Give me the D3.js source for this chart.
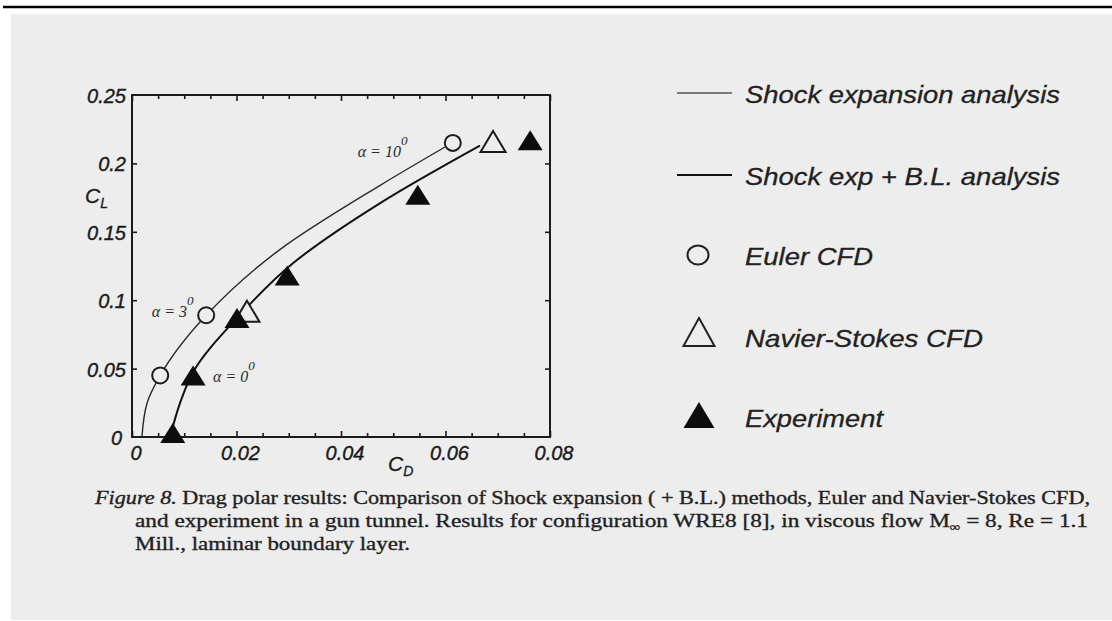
<!DOCTYPE html>
<html>
<head>
<meta charset="utf-8">
<script src="https://cdn.jsdelivr.net/npm/d3@7"></script>
<style>
  body { margin: 0; background: #fff; }
  svg { display: block; }
</style>
</head>
<body>
<div id="chart"></div>
<script>
// drag polar values (C_D, C_L)
const eulerCFD = [[0.0054, 0.045], [0.0142, 0.089], [0.0614, 0.215]]
const navierStokesCFD = [[0.0220, 0.092], [0.0691, 0.216]]
const experiment = [[0.0078, 0.003], [0.0117, 0.045], [0.0201, 0.087], [0.0297, 0.118], [0.0547, 0.177], [0.0762, 0.217]]
const shockExpansion = [[0.0019, 0], [0.0029, 0.025], [0.0054, 0.045], [0.0142, 0.089], [0.0283, 0.137], [0.0475, 0.184], [0.0599, 0.212]]
const shockExpBL = [[0.0075, 0.003], [0.0093, 0.026], [0.0117, 0.0475], [0.0201, 0.087], [0.0308, 0.127], [0.0475, 0.171], [0.0666, 0.213]]

const xTicks = [0, 0.02, 0.04, 0.06, 0.08]
const xTickLabels = ["0", "0.02", "0.04", "0.06", "0.08"]
const yTicks = [0, 0.05, 0.1, 0.15, 0.2, 0.25]
const yTickLabels = ["0", "0.05", "0.1", "0.15", "0.2", "0.25"]

const legendLabels = ["Shock expansion analysis", "Shock exp + B.L. analysis", "Euler CFD", "Navier-Stokes CFD", "Experiment"]
const alphaNotes = [
  { text: "α = 10", at: [0.0432, 0.205] },
  { text: "α = 3", at: [0.0038, 0.088] },
  { text: "α = 0", at: [0.0155, 0.04] }
]
const captionLines = [
  "Drag polar results: Comparison of Shock expansion ( + B.L.) methods, Euler and Navier-Stokes CFD,",
  "and experiment in a gun tunnel. Results for configuration WRE8 [8], in viscous flow M",
  "Mill., laminar boundary layer."
]

const W = 1112, H = 621
const paper = "#ededed", ink = "#1b1b1b"
const sans = "'Liberation Sans', Arial, sans-serif"
const serif = "'Liberation Serif', 'Times New Roman', serif"

const svg = d3.select("#chart").append("svg")
  .attr("width", W).attr("height", H)

svg.append("rect").attr("width", W).attr("height", H).attr("fill", "#fff")
svg.append("line")
  .attr("x1", 3).attr("x2", W).attr("y1", 7).attr("y2", 7)
  .attr("stroke", "#000").attr("stroke-width", 2.5)
svg.append("rect")
  .attr("x", 11).attr("y", 14).attr("width", W - 11).attr("height", H - 15)
  .attr("fill", paper)

const x = d3.scaleLinear().domain([0, 0.08]).range([132, 550])
const y = d3.scaleLinear().domain([0, 0.25]).range([437, 95])

// ticks point inward on all four sides
const minorX = d3.range(0, 0.0801, 0.005)
const isMajor = d => Math.abs(d / 0.02 - Math.round(d / 0.02)) < 1e-6

function styleTicks(g) {
  g.select(".domain").remove()
  g.selectAll(".tick line").attr("stroke", ink).attr("stroke-width", 1.6)
}

svg.append("g")
  .attr("transform", `translate(0,${y(0)})`)
  .call(d3.axisBottom(x).tickValues(minorX).tickFormat("").tickSize(-4))
  .call(styleTicks)
  .selectAll(".tick line").attr("y2", d => isMajor(d) ? -6 : -4)

svg.append("g")
  .attr("transform", `translate(0,${y(0.25)})`)
  .call(d3.axisTop(x).tickValues(minorX).tickFormat("").tickSize(-4))
  .call(styleTicks)
  .selectAll(".tick line").attr("y2", d => isMajor(d) ? 6 : 4)

svg.append("g")
  .attr("transform", `translate(${x(0)},0)`)
  .call(d3.axisLeft(y).tickValues(yTicks.slice(1, -1)).tickFormat("").tickSize(-5))
  .call(styleTicks)

svg.append("g")
  .attr("transform", `translate(${x(0.08)},0)`)
  .call(d3.axisRight(y).tickValues(yTicks.slice(1, -1)).tickFormat("").tickSize(-5))
  .call(styleTicks)

svg.append("rect")
  .attr("x", x(0)).attr("y", y(0.25))
  .attr("width", x(0.08) - x(0)).attr("height", y(0) - y(0.25))
  .attr("fill", "none").attr("stroke", ink).attr("stroke-width", 2)

// tick labels (a faint stroke thickens them like the scan)
svg.append("g").selectAll("text")
  .data(xTicks)
  .join("text")
  .attr("x", d => x(d) + 4)
  .attr("y", y(0) + 23)
  .attr("text-anchor", "middle")
  .attr("font-family", sans).attr("font-style", "italic").attr("font-size", 20)
  .attr("fill", ink).attr("stroke", ink).attr("stroke-width", 0.4)
  .text((d, i) => xTickLabels[i])

svg.append("g").selectAll("text")
  .data(yTicks)
  .join("text")
  .attr("x", d => d === 0 ? x(0) - 10 : x(0) - 6)
  .attr("y", d => y(d) + 8)
  .attr("text-anchor", "end")
  .attr("font-family", sans).attr("font-style", "italic").attr("font-size", 20)
  .attr("fill", ink).attr("stroke", ink).attr("stroke-width", 0.4)
  .text((d, i) => yTickLabels[i])

// axis titles
const cl = svg.append("text")
  .attr("x", 85).attr("y", 203)
  .attr("font-family", sans).attr("font-style", "italic").attr("font-size", 21)
  .attr("fill", ink).attr("stroke", ink).attr("stroke-width", 0.3)
cl.append("tspan").text("C")
cl.append("tspan").attr("font-size", 14).attr("dy", 5).text("L")

const cd = svg.append("text")
  .attr("x", 388).attr("y", 471)
  .attr("font-family", sans).attr("font-style", "italic").attr("font-size", 21)
  .attr("fill", ink).attr("stroke", ink).attr("stroke-width", 0.3)
cd.append("tspan").text("C")
cd.append("tspan").attr("font-size", 14).attr("dy", 5).text("D")

// curves
const line = d3.line()
  .x(d => x(d[0]))
  .y(d => y(d[1]))
  .curve(d3.curveMonotoneY)

svg.append("path").datum(shockExpansion)
  .attr("d", line)
  .attr("fill", "none").attr("stroke", "#2a2a2a").attr("stroke-width", 1.4)

svg.append("path").datum(shockExpBL)
  .attr("d", line)
  .attr("fill", "none").attr("stroke", "#111").attr("stroke-width", 2)

function tri(w, h) {
  return `M0,${-h / 2}L${w / 2},${h / 2}L${-w / 2},${h / 2}Z`
}

svg.append("g").selectAll("circle")
  .data(eulerCFD)
  .join("circle")
  .attr("cx", d => x(d[0])).attr("cy", d => y(d[1]))
  .attr("r", 8)
  .attr("fill", paper).attr("stroke", ink).attr("stroke-width", 2)

svg.append("g").selectAll("path")
  .data(navierStokesCFD)
  .join("path")
  .attr("transform", d => `translate(${x(d[0])},${y(d[1])})`)
  .attr("d", tri(25, 21))
  .attr("fill", paper).attr("stroke", ink).attr("stroke-width", 2)

svg.append("g").selectAll("path")
  .data(experiment)
  .join("path")
  .attr("transform", d => `translate(${x(d[0])},${y(d[1])})`)
  .attr("d", tri(25, 20))
  .attr("fill", "#0d0d0d")

// angle of attack notes
const notes = svg.append("g").selectAll("text")
  .data(alphaNotes)
  .join("text")
  .attr("x", d => x(d.at[0])).attr("y", d => y(d.at[1]))
  .attr("font-family", serif).attr("font-style", "italic").attr("font-size", 16)
  .attr("fill", "#2a2a2a")
notes.append("tspan").text(d => d.text)
notes.append("tspan").attr("font-size", 13).attr("dy", -12).text("0")

// legend
const legend = svg.append("g")
const legendY = [103, 185, 265, 347, 427]

legend.append("line")
  .attr("x1", 677).attr("x2", 732).attr("y1", 93).attr("y2", 93)
  .attr("stroke", "#555").attr("stroke-width", 1.3)
legend.append("line")
  .attr("x1", 677).attr("x2", 732).attr("y1", 175).attr("y2", 175)
  .attr("stroke", "#111").attr("stroke-width", 2)
legend.append("ellipse")
  .attr("cx", 698).attr("cy", 255).attr("rx", 10.5).attr("ry", 9.5)
  .attr("fill", "none").attr("stroke", "#222").attr("stroke-width", 2)
legend.append("path")
  .attr("transform", "translate(699,332)")
  .attr("d", tri(31, 28))
  .attr("fill", "none").attr("stroke", "#222").attr("stroke-width", 2)
legend.append("path")
  .attr("transform", "translate(699,415)")
  .attr("d", tri(31, 26))
  .attr("fill", "#0d0d0d")

const legendWidths = [315, 315, 128, 238, 138]
legend.selectAll("text.lab")
  .data(legendLabels)
  .join("text")
  .attr("class", "lab")
  .attr("x", 745)
  .attr("y", (d, i) => legendY[i])
  .attr("font-family", sans).attr("font-style", "italic").attr("font-size", 24)
  .attr("fill", "#222").attr("stroke", "#222").attr("stroke-width", 0.3)
  .attr("textLength", (d, i) => legendWidths[i])
  .attr("lengthAdjust", "spacingAndGlyphs")
  .text(d => d)

// caption
const cap = svg.append("g")
  .attr("font-family", serif).attr("font-size", 19)
  .attr("fill", "#222").attr("stroke", "#222").attr("stroke-width", 0.35)

const c1 = cap.append("text").attr("x", 95).attr("y", 504)
  .attr("textLength", 995).attr("lengthAdjust", "spacingAndGlyphs")
c1.append("tspan").attr("font-style", "italic").text("Figure 8. ")
c1.append("tspan").text(captionLines[0])

const c2 = cap.append("text").attr("x", 135).attr("y", 527)
  .attr("textLength", 953).attr("lengthAdjust", "spacingAndGlyphs")
c2.append("tspan").text(captionLines[1])
c2.append("tspan").attr("font-size", 12).attr("dy", 4).text("∞")
c2.append("tspan").attr("dy", -4).text(" = 8, Re = 1.1")

cap.append("text").attr("x", 135).attr("y", 550)
  .attr("textLength", 275).attr("lengthAdjust", "spacingAndGlyphs")
  .text(captionLines[2])
</script>
</body>
</html>
